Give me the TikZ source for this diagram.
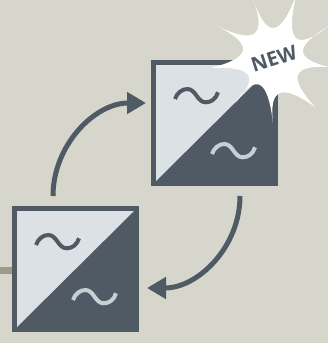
\documentclass[tikz,border=0pt]{standalone}
\usepackage{fontspec}
\setmainfont{Open Sans}
\usetikzlibrary{arrows.meta,calc}
\definecolor{bg}{HTML}{D6D6CD}
\definecolor{dark}{HTML}{4F5A65}
\definecolor{lite}{HTML}{DCE1E5}
\definecolor{wave}{HTML}{C5D0D3}
\definecolor{olive}{HTML}{9B9C85}
\tikzset{
  sq/.style={draw=none,fill=dark,minimum width=127pt,minimum height=126pt,inner sep=0pt,outer sep=0pt},
  arr/.style={draw=dark,line width=5pt,-{Triangle[length=19pt,width=21pt]}},
  tildepath/.style={line width=4pt},
}
\newcommand{\drawtilde}[2]{%
  \begin{scope}[shift={(#1)}]
  \draw[tildepath,#2] (0,0) .. controls (2,-6) and (7,-10) .. (12.3,-10)
    .. controls (21,-10) and (22,3.3) .. (30.7,3.3)
    .. controls (36,3.3) and (41,0) .. (43,-6.7);
  \end{scope}}
\begin{document}
\begin{tikzpicture}[x=1pt,y=-1pt]
\useasboundingbox (0,0) rectangle (328,343);
\clip (0,0) rectangle (328,343);
\fill[bg] (0,0) rectangle (328,343);
\fill[olive] (0,267) rectangle (12,274);
\node[sq] (t) at (214.5,123) {};
\node[sq] (b) at (75.5,269) {};
\fill[lite] ($(t.north west)+(5,5)$) -- ($(t.north east)+(-5,5)$) -- ($(t.south west)+(5,-5)$) -- cycle;
\fill[lite] ($(b.north west)+(5,5)$) -- ($(b.north east)+(-5,5)$) -- ($(b.south west)+(5,-5)$) -- cycle;
\coordinate (tl) at ($(t)+(-39.5,-24)$);
\coordinate (td) at ($(t)+(-2.5,31)$);
\coordinate (bl) at ($(b)+(-39.5,-24)$);
\coordinate (bd) at ($(b)+(-2.5,31)$);
\drawtilde{tl}{dark}
\drawtilde{td}{wave}
\drawtilde{bl}{dark}
\drawtilde{bd}{wave}
\coordinate (a1s) at (53,196);
\coordinate (a1e) at (146,103);
\coordinate (a2s) at (240,196);
\coordinate (a2e) at (147,288);
\draw[arr] (a1s) .. controls (53,145) and (95,103) .. (a1e);
\draw[arr] (a2s) .. controls (240,247) and (198,288) .. (a2e);
\fill[white] (252,-4) .. controls (266.1,38.7) and (279.3,38.7) .. (296,-4)
  .. controls (285.5,42.5) and (295.5,51.5) .. (329,26)
  .. controls (294.3,46.3) and (294.3,58.7) .. (329,67)
  .. controls (292.1,65) and (287.9,77) .. (315,107)
  .. controls (281.6,83.3) and (269,88.1) .. (273,123)
  .. controls (267.7,78.7) and (256.3,72.7) .. (235,103)
  .. controls (259.9,76.8) and (252.7,66.2) .. (211,68)
  .. controls (251.8,57.3) and (253.6,44.7) .. (217,26)
  .. controls (256.5,44.8) and (267.1,35.8) .. (252,-4) -- cycle;
\node[text=dark,font=\bfseries\fontsize{20}{20}\selectfont,rotate=18,inner sep=0pt] (new) at (274,58.5) {NEW};
\end{tikzpicture}
\end{document}
